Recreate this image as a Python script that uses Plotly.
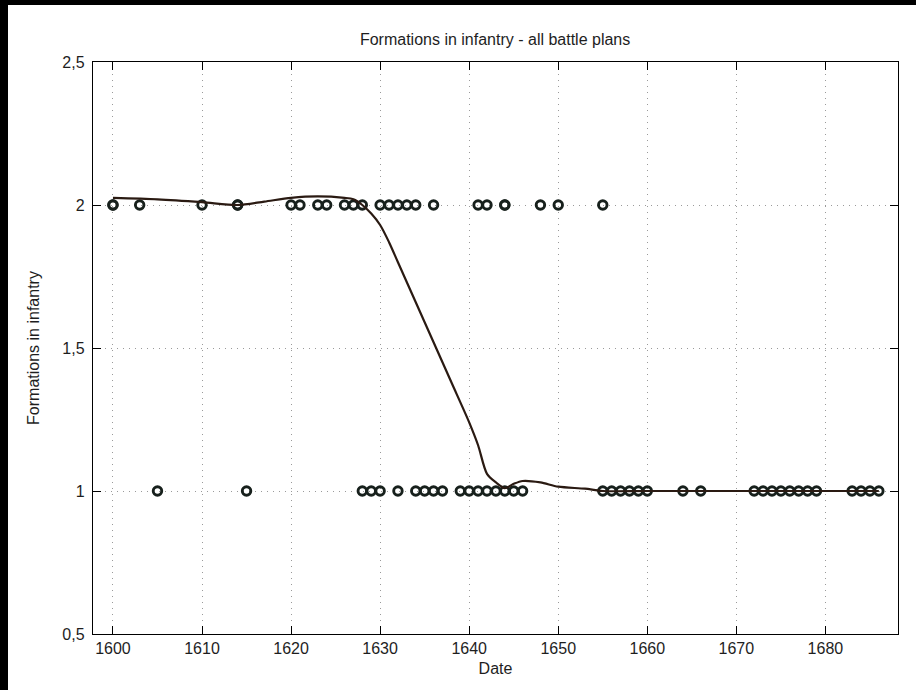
import plotly.graph_objects as go

# Observed battle plans: year and number of formations in infantry
years_two = [1600, 1600, 1603, 1610, 1614, 1614, 1620, 1621, 1623, 1624, 1626, 1627, 1628,
             1630, 1631, 1632, 1633, 1634, 1636, 1641, 1642, 1644, 1644, 1648, 1650, 1655]
years_one = [1605, 1615, 1628, 1629, 1630, 1632, 1634, 1635, 1636, 1637, 1639, 1640, 1641,
             1642, 1643, 1644, 1645, 1646, 1655, 1656, 1657, 1658, 1659, 1660, 1664, 1666,
             1672, 1673, 1674, 1675, 1676, 1677, 1678, 1679, 1683, 1684, 1685, 1686]

# Smoothed trend
trend_years = [1600, 1605, 1610, 1614, 1617, 1620, 1623, 1626, 1627, 1628, 1629, 1630, 1631,
               1632, 1634, 1636, 1638, 1640, 1641, 1642, 1643, 1644, 1645, 1646, 1648, 1650,
               1653, 1655, 1660, 1670, 1680, 1686]
trend_vals = [2.025, 2.02, 2.01, 2.0, 2.012, 2.025, 2.03, 2.025, 2.02, 2.0, 1.97, 1.93, 1.87,
              1.80, 1.66, 1.52, 1.38, 1.24, 1.16, 1.06, 1.03, 1.01, 1.025, 1.035, 1.03, 1.015,
              1.008, 1.0, 1.0, 1.0, 1.0, 1.0]

y_ticks = [0.5, 1, 1.5, 2, 2.5]
y_labels = ["0,5", "1", "1,5", "2", "2,5"]
x_ticks = [1600, 1610, 1620, 1630, 1640, 1650, 1660, 1670, 1680]

FONT = "Liberation Sans, Arial, sans-serif"
TXT = "#1e1e1e"
DARK = "#17201c"
FS = 16

fig = go.Figure()
fig.add_trace(go.Scatter(
    x=years_two + years_one,
    y=[2] * len(years_two) + [1] * len(years_one),
    mode="markers",
    marker=dict(symbol="circle-open", size=8.5, color=DARK, line=dict(width=2.9, color=DARK)),
    showlegend=False,
))
fig.add_trace(go.Scatter(
    x=trend_years, y=trend_vals, mode="lines",
    line=dict(color="#2a1a12", width=2.2, shape="spline", smoothing=0.8),
    showlegend=False,
))

axis_common = dict(
    showline=True, linecolor="black", linewidth=1.4, mirror="ticks",
    ticks="inside", ticklen=8, tickcolor="black", tickwidth=1,
    showgrid=True, gridcolor="#9a9a9a", griddash="1px,5px", gridwidth=1,
    zeroline=False, tickfont=dict(family=FONT, size=FS, color=TXT),
)

fig.update_layout(
    width=916, height=690,
    margin=dict(l=93, r=18, t=62, b=56),
    paper_bgcolor="white", plot_bgcolor="white",
    title=dict(text="Formations in infantry - all battle plans", x=0.5405, xanchor="center",
               y=0.943, yanchor="middle", font=dict(family=FONT, size=FS, color=TXT)),
    xaxis=dict(range=[1597.76, 1688.15], tickvals=x_ticks, ticktext=[str(v) for v in x_ticks],
               title=dict(text="Date", font=dict(family=FONT, size=FS, color=TXT), standoff=6),
               **axis_common),
    yaxis=dict(range=[0.5, 2.5], tickvals=y_ticks, ticktext=y_labels, ticklabelstandoff=4,
               title=dict(text="Formations in infantry", font=dict(family=FONT, size=FS, color=TXT),
                          standoff=18),
               **axis_common),
    shapes=[
        dict(type="rect", xref="paper", yref="paper", x0=-0.2, x1=(8 - 93) / 805, y0=-0.2, y1=1.2,
             fillcolor="black", line=dict(width=0), layer="below"),
        dict(type="rect", xref="paper", yref="paper", x0=-0.2, x1=1.1, y0=1 + (62 - 5) / 572, y1=1.2,
             fillcolor="black", line=dict(width=0), layer="below"),
    ],
)

fig.write_html("out.html")
